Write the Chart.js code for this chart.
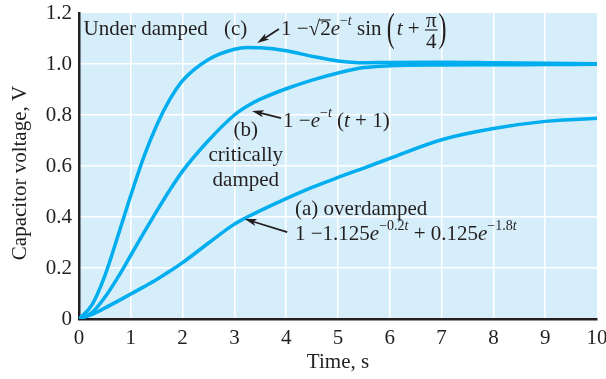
<!DOCTYPE html>
<html><head><meta charset="utf-8">
<script src="https://cdn.jsdelivr.net/npm/chart.js@4/dist/chart.umd.min.js"></script>
<style>html,body{margin:0;padding:0;background:#fff}canvas{display:block}</style>
</head><body>
<canvas id="c" width="606" height="379"></canvas>
<script>
// ---- data ----
const timeValues       = [0, 0.25, 0.5, 0.75, 1, 1.25, 1.5, 1.75, 2, 2.5, 3, 3.25, 3.5, 4, 4.5, 5, 5.5, 6, 7, 8, 9, 10];
const overdamped       = [0, 0.018, 0.043, 0.07, 0.098, 0.126, 0.155, 0.187, 0.221, 0.298, 0.372, 0.4, 0.425, 0.472, 0.516, 0.555, 0.592, 0.63, 0.703, 0.747, 0.775, 0.787];
const criticallyDamped = [0, 0.025, 0.085, 0.163, 0.25, 0.338, 0.423, 0.505, 0.58, 0.70, 0.80, 0.835, 0.862, 0.903, 0.937, 0.965, 0.986, 0.993, 0.996, 0.997, 0.998, 0.999];
const underDamped      = [0, 0.055, 0.17, 0.325, 0.485, 0.635, 0.76, 0.86, 0.935, 1.018, 1.058, 1.065, 1.064, 1.052, 1.03, 1.012, 1.005, 1.006, 1.007, 1.005, 1.003, 1.001];
const xTickValues = [0, 1, 2, 3, 4, 5, 6, 7, 8, 9, 10];
const yTickLabels = ['0', '0.2', '0.4', '0.6', '0.8', '1.0', '1.2'];
const xAxisTitle = 'Time, s';
const yAxisTitle = 'Capacitor voltage, V';

// annotation anchors in data units (t, volts)
const labelUnder    = {t: 0.087, v: 1.114};
const labelC        = {t: 2.80,  v: 1.114};
const formulaC      = {t: 3.90,  v: 1.114};
const labelB        = {t: 3.22,  v: [0.718, 0.620, 0.522]};
const formulaB      = {t: 3.94,  v: 0.753};
const labelA        = {t: 4.17,  v: 0.408};
const formulaA      = {t: 4.17,  v: 0.310};
const arrowC = {from: [3.86, 1.137], to: [3.44, 1.082]};
const arrowB = {from: [3.90, 0.788], to: [3.34, 0.816]};
const arrowA = {from: [4.02, 0.341], to: [3.20, 0.392]};

// ---- styles ----
const SERIF = '"Liberation Serif", "Times New Roman", Times, serif';
const FS = 21;
const INK = '#231f20';
const CURVE = '#00aeef';
const PLOT_BG = '#d5eef9';
const R  = `${FS}px ${SERIF}`;
const I  = `italic ${FS}px ${SERIF}`;
const S  = `14px ${SERIF}`;
const SI = `italic 14px ${SERIF}`;

const toPts = arr => timeValues.map((t, i) => ({x: t, y: arr[i]}));

const bgPlugin = {
  id: 'bg',
  beforeDraw(chart) {
    const {ctx, chartArea: a} = chart;
    ctx.save();
    ctx.fillStyle = PLOT_BG;
    ctx.fillRect(a.left, a.top, a.right - a.left, a.bottom - a.top);
    ctx.restore();
  }
};

function drawRich(ctx, x, y, segs) {
  let cx = x;
  for (const s of segs) {
    cx += s.dx || 0;
    if (s.frac) {
      ctx.font = R;
      const w1 = ctx.measureText(s.frac[0]).width, w2 = ctx.measureText(s.frac[1]).width;
      const w = Math.max(w1, w2) + 2;
      ctx.textAlign = 'center';
      ctx.fillText(s.frac[0], cx + w / 2, y - 8);
      ctx.fillText(s.frac[1], cx + w / 2, y + 13);
      ctx.fillRect(cx, y - 5.5, w, 1.1);
      ctx.textAlign = 'left';
      cx += w;
      continue;
    }
    if (s.paren) {
      ctx.save();
      ctx.font = `40px ${SERIF}`;
      ctx.translate(cx, y + 6);
      ctx.scale(0.6, 1);
      ctx.fillText(s.paren, 0, 0);
      const w = ctx.measureText(s.paren).width * 0.6;
      ctx.restore();
      cx += w;
      continue;
    }
    ctx.font = s.f;
    ctx.fillText(s.t, cx, y + (s.dy || 0));
    const w = ctx.measureText(s.t).width;
    if (s.over) ctx.fillRect(cx - 1, y - 15.5, w + 1, 1.1);
    cx += w;
  }
}

function drawArrow(ctx, x1, y1, x2, y2) {
  const ang = Math.atan2(y2 - y1, x2 - x1);
  const L = 12, H = 3.6;
  ctx.beginPath();
  ctx.moveTo(x1, y1);
  ctx.lineTo(x2 - Math.cos(ang) * L * 0.7, y2 - Math.sin(ang) * L * 0.7);
  ctx.lineWidth = 1.8;
  ctx.strokeStyle = INK;
  ctx.stroke();
  ctx.beginPath();
  ctx.moveTo(x2, y2);
  const bx = x2 - Math.cos(ang) * L, by = y2 - Math.sin(ang) * L;
  ctx.lineTo(bx + Math.sin(ang) * H, by - Math.cos(ang) * H);
  ctx.lineTo(x2 - Math.cos(ang) * L * 0.75, y2 - Math.sin(ang) * L * 0.75);
  ctx.lineTo(bx - Math.sin(ang) * H, by + Math.cos(ang) * H);
  ctx.closePath();
  ctx.fillStyle = INK;
  ctx.fill();
}

const annotPlugin = {
  id: 'annot',
  afterDraw(chart) {
    const {ctx} = chart;
    const X = chart.scales.x, Y = chart.scales.y;
    const px = t => X.getPixelForValue(t), py = v => Y.getPixelForValue(v);
    ctx.save();
    ctx.fillStyle = INK;
    ctx.textBaseline = 'alphabetic';
    ctx.textAlign = 'left';

    // y axis title
    ctx.save();
    ctx.font = `21px ${SERIF}`;
    ctx.textAlign = 'center';
    ctx.textBaseline = 'middle';
    ctx.translate(20, (py(0) + py(1.2)) / 2 + 7);
    ctx.rotate(-Math.PI / 2);
    ctx.fillText(yAxisTitle, 0, 0);
    ctx.restore();

    ctx.font = R;
    ctx.fillText('Under damped', px(labelUnder.t), py(labelUnder.v));
    ctx.fillText('(c)', px(labelC.t), py(labelC.v));
    drawRich(ctx, px(formulaC.t), py(formulaC.v), [
      {t: '1 ', f: R}, {t: '\u2212', f: R}, {t: '\u221A', f: R}, {t: '2', f: R, over: true},
      {t: 'e', f: I}, {t: '\u2212', f: S, dy: -9.5}, {t: 't', f: SI, dy: -9.5},
      {t: ' sin ', f: R}, {paren: '('}, {t: 't', f: I, dx: 2}, {t: ' + ', f: R},
      {frac: ['\u03C0', '4']}, {paren: ')', dx: 1}
    ]);

    ctx.textAlign = 'center';
    ctx.font = R;
    ['(b)', 'critically', 'damped'].forEach((s, i) => ctx.fillText(s, px(labelB.t), py(labelB.v[i])));
    ctx.textAlign = 'left';
    drawRich(ctx, px(formulaB.t), py(formulaB.v), [
      {t: '1 ', f: R}, {t: '\u2212', f: R}, {t: 'e', f: I}, {t: '\u2212', f: S, dy: -9.5}, {t: 't', f: SI, dy: -9.5},
      {t: ' (', f: R}, {t: 't', f: I}, {t: ' + 1)', f: R}
    ]);

    ctx.font = R;
    ctx.fillText('(a) overdamped', px(labelA.t), py(labelA.v));
    drawRich(ctx, px(formulaA.t), py(formulaA.v), [
      {t: '1 ', f: R}, {t: '\u22121.125', f: R}, {t: 'e', f: I}, {t: '\u22120.2', f: S, dy: -9.5}, {t: 't', f: SI, dy: -9.5},
      {t: ' + 0.125', f: R}, {t: 'e', f: I}, {t: '\u22121.8', f: S, dy: -9.5}, {t: 't', f: SI, dy: -9.5}
    ]);

    for (const a of [arrowC, arrowB, arrowA]) {
      drawArrow(ctx, px(a.from[0]), py(a.from[1]), px(a.to[0]), py(a.to[1]));
    }
    ctx.restore();
  }
};

const lineStyle = {borderColor: CURVE, borderWidth: 3.5, pointRadius: 0, fill: false, cubicInterpolationMode: 'monotone'};

new Chart(document.getElementById('c').getContext('2d'), {
  type: 'line',
  data: {
    datasets: [
      Object.assign({label: '(a) overdamped', data: toPts(overdamped)}, lineStyle),
      Object.assign({label: '(b) critically damped', data: toPts(criticallyDamped)}, lineStyle),
      Object.assign({label: '(c) under damped', data: toPts(underDamped)}, lineStyle)
    ]
  },
  options: {
    responsive: false, animation: false, devicePixelRatio: 1,
    layout: {padding: {left: 0, right: 9, top: 13, bottom: 0}},
    plugins: {legend: {display: false}, tooltip: {enabled: false}},
    scales: {
      x: {
        type: 'linear', min: 0, max: 10,
        afterBuildTicks: s => { s.ticks = xTickValues.map(v => ({value: v})); },
        ticks: {color: INK, font: {family: SERIF, size: FS}, padding: 7, maxRotation: 0, autoSkip: false,
                callback: v => String(v)},
        grid: {color: c => (c.tick && c.tick.value === 10) ? 'rgba(0,0,0,0)' : '#ffffff', lineWidth: 1.5, drawTicks: false},
        border: {color: INK, width: 2.5},
        title: {display: true, text: xAxisTitle, color: INK, font: {family: SERIF, size: FS, lineHeight: 1.2}, padding: {top: 0, bottom: 4}},
        afterFit: s => { s.height = 60; s.paddingLeft = 0; s.paddingRight = 0; }
      },
      y: {
        type: 'linear', min: 0, max: 1.2,
        afterBuildTicks: s => { s.ticks = yTickLabels.map((l, i) => ({value: i * 0.2})); },
        ticks: {color: INK, font: {family: SERIF, size: FS}, padding: 7, callback: (v, i) => yTickLabels[i]},
        grid: {color: c => (c.tick && c.index === yTickLabels.length - 1) ? 'rgba(0,0,0,0)' : '#ffffff', lineWidth: 1.5, drawTicks: false},
        border: {color: INK, width: 2.5},
        afterFit: s => { s.width = 79; s.paddingTop = 0; s.paddingBottom = 0; }
      }
    }
  },
  plugins: [bgPlugin, annotPlugin]
});
</script>
</body></html>
